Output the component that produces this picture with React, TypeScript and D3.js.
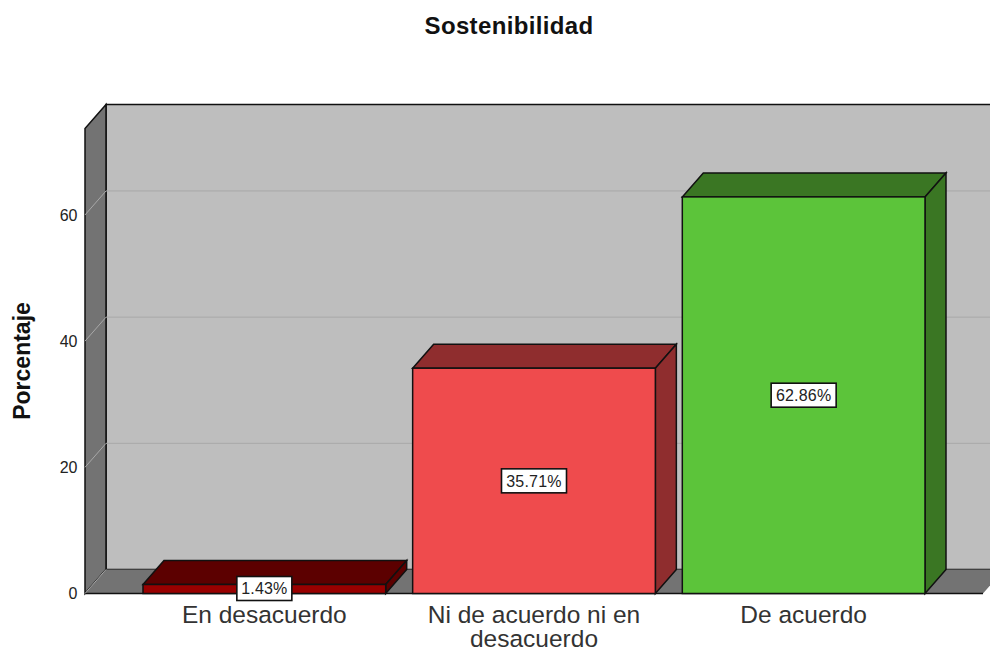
import React from 'react'
import { scaleBand, scaleLinear } from 'd3'

const categories = ['En desacuerdo', 'Ni de acuerdo ni en desacuerdo', 'De acuerdo']
const categoryLines = [['En desacuerdo'], ['Ni de acuerdo ni en', 'desacuerdo'], ['De acuerdo']]
const values = [1.43, 35.71, 62.86]
const valueLabels = ['1.43%', '35.71%', '62.86%']
const yTicks = [0, 20, 40, 60]
const frontColors = ['#990000', '#ef4b4d', '#5cc43a']
const darkColors = ['#5c0000', '#8f2d2e', '#3a7623']

const width = 990
const height = 648
const depthX = 21
const depthY = 24
const font = '"Liberation Sans", Arial, sans-serif'

const pts = (p: number[][]) => p.map(d => d.join(',')).join(' ')

function App() {
    const y = scaleLinear().domain([0, 73.7]).range([593.5, 128.5])
    const x = scaleBand<string>()
        .domain(categories)
        .range([143, 925])
        .paddingInner(0.1)
        .paddingOuter(0)

    const left = 85
    const right = 983
    const y0 = y(0)
    const yTop = y(73.7)

    return (
        <svg
            width={width}
            height={height}
            style={{ position: 'absolute', left: 0, top: 0, background: '#fff' }}
            fontFamily={font}
        >
            <text x={509} y={34} textAnchor="middle" fontSize={24} letterSpacing={0.35} fontWeight="bold" fill="#111">
                Sostenibilidad
            </text>

            {/* back wall, side wall, floor */}
            <rect x={left + depthX} y={yTop - depthY} width={right - left} height={y0 - yTop} fill="#bebebe" stroke="#111" strokeWidth={1.5} />
            <polygon
                points={pts([[left, y0], [left + depthX, y0 - depthY], [left + depthX, yTop - depthY], [left, yTop]])}
                fill="#737373"
                stroke="#111"
                strokeWidth={1.5}
            />
            <polygon
                points={pts([[left, y0], [left + depthX, y0 - depthY], [right + depthX, y0 - depthY], [right, y0]])}
                fill="#737373"
            />
            <line x1={left} x2={right} y1={y0} y2={y0} stroke="#111" strokeWidth={1.5} />

            {/* grid lines */}
            {yTicks.map(t => (
                <g key={t} stroke="#a8a8a8" strokeWidth={1}>
                    <line x1={left} y1={y(t)} x2={left + depthX} y2={y(t) - depthY} />
                    {t > 0 && <line x1={left + depthX} y1={y(t) - depthY} x2={width} y2={y(t) - depthY} />}
                </g>
            ))}

            {yTicks.map(t => (
                <text key={t} x={77.5} y={y(t)} dy="0.36em" textAnchor="end" fontSize={16} fill="#222">
                    {t}
                </text>
            ))}
            <text
                transform="translate(30,361) rotate(-90)"
                textAnchor="middle"
                fontSize={23}
                fontWeight="bold"
                fill="#111"
            >
                Porcentaje
            </text>

            {/* bars */}
            {categories.map((c, i) => {
                const bx = x(c) as number
                const bw = x.bandwidth()
                const by = y(values[i])
                return (
                    <g key={c} stroke="#111" strokeWidth={1.5}>
                        <polygon
                            points={pts([[bx, by], [bx + depthX, by - depthY], [bx + bw + depthX, by - depthY], [bx + bw, by]])}
                            fill={darkColors[i]}
                        />
                        <polygon
                            points={pts([[bx + bw, by], [bx + bw + depthX, by - depthY], [bx + bw + depthX, y0 - depthY], [bx + bw, y0]])}
                            fill={darkColors[i]}
                        />
                        <rect x={bx} y={by} width={bw} height={y0 - by} fill={frontColors[i]} />
                    </g>
                )
            })}

            {/* value labels */}
            {categories.map((c, i) => {
                const cx = (x(c) as number) + x.bandwidth() / 2
                const cy = i === 0 ? 588.5 : (y(values[i]) + y0) / 2
                const w = i === 0 ? 55 : 65
                return (
                    <g key={c}>
                        <rect x={cx - w / 2} y={cy - 12} width={w} height={24} fill="#fff" stroke="#111" strokeWidth={1.6} />
                        <text x={cx} y={cy} dy="0.36em" textAnchor="middle" fontSize={16} letterSpacing={0.2} fill="#222">
                            {valueLabels[i]}
                        </text>
                    </g>
                )
            })}

            {/* category labels */}
            {categories.map((c, i) => (
                <text
                    key={c}
                    x={(x(c) as number) + x.bandwidth() / 2}
                    y={623}
                    textAnchor="middle"
                    fontSize={24.5}
                    fill="#333"
                >
                    {categoryLines[i].map((line, j) => (
                        <tspan key={line} x={(x(c) as number) + x.bandwidth() / 2} dy={j === 0 ? 0 : 24}>
                            {line}
                        </tspan>
                    ))}
                </text>
            ))}
        </svg>
    )
}

export default App
